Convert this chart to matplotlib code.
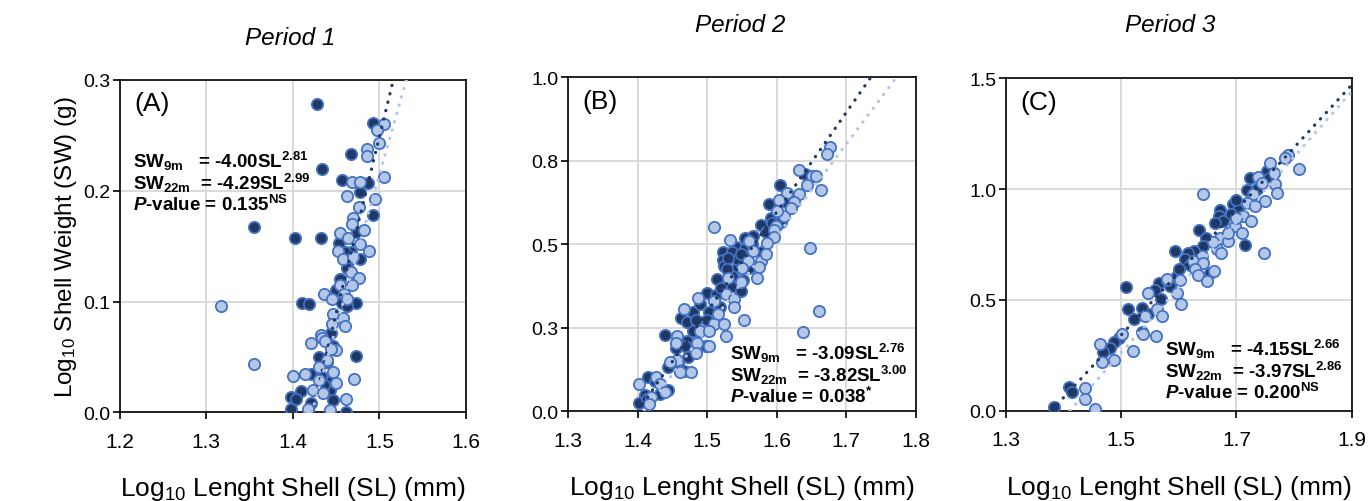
import matplotlib.pyplot as plt

plt.rcParams['font.family'] = ['Liberation Sans', 'DejaVu Sans']
plt.rcParams['mathtext.fontset'] = 'custom'
plt.rcParams['mathtext.rm'] = 'Liberation Sans'
plt.rcParams['mathtext.it'] = 'Liberation Sans:italic'
plt.rcParams['mathtext.bf'] = 'Liberation Sans:bold'
plt.rcParams['mathtext.bfit'] = 'Liberation Sans:italic:bold'

# ---- data (log10 SL, log10 SW) ----
a_dark = [(1.428, 0.278), (1.492, 0.261), (1.467, 0.233), (1.434, 0.220), (1.457, 0.210),
          (1.487, 0.207), (1.477, 0.199), (1.493, 0.178), (1.355, 0.167), (1.474, 0.163),
          (1.402, 0.157), (1.432, 0.157), (1.453, 0.153), (1.467, 0.145), (1.477, 0.138),
          (1.464, 0.136), (1.462, 0.130), (1.411, 0.099), (1.419, 0.098), (1.457, 0.099),
          (1.473, 0.099), (1.463, 0.096), (1.447, 0.087), (1.444, 0.072), (1.446, 0.060),
          (1.473, 0.051), (1.430, 0.050), (1.421, 0.035), (1.432, 0.033), (1.444, 0.028),
          (1.429, 0.020), (1.443, 0.020), (1.409, 0.019), (1.398, 0.014), (1.404, 0.012),
          (1.446, 0.011), (1.421, 0.008), (1.398, 0.003), (1.461, 0.000), (1.460, 0.145),
          (1.455, 0.120), (1.450, 0.110), (1.440, 0.045), (1.436, 0.025)]
a_light = [(1.505, 0.260), (1.497, 0.255), (1.500, 0.243), (1.486, 0.238), (1.486, 0.231),
           (1.468, 0.208), (1.477, 0.208), (1.505, 0.212), (1.462, 0.195), (1.495, 0.193),
           (1.476, 0.185), (1.470, 0.175), (1.468, 0.170), (1.482, 0.165), (1.455, 0.162),
           (1.464, 0.157), (1.452, 0.146), (1.477, 0.152), (1.488, 0.146), (1.458, 0.138),
           (1.470, 0.140), (1.467, 0.127), (1.476, 0.121), (1.454, 0.115), (1.468, 0.115),
           (1.436, 0.107), (1.459, 0.107), (1.445, 0.102), (1.463, 0.102), (1.317, 0.096),
           (1.446, 0.089), (1.458, 0.085), (1.445, 0.080), (1.460, 0.078), (1.432, 0.070),
           (1.434, 0.067), (1.421, 0.063), (1.437, 0.064), (1.450, 0.056), (1.444, 0.057),
           (1.355, 0.044), (1.439, 0.047), (1.430, 0.041), (1.414, 0.035), (1.400, 0.033),
           (1.446, 0.036), (1.471, 0.030), (1.430, 0.029), (1.450, 0.026), (1.423, 0.020),
           (1.435, 0.017), (1.461, 0.012), (1.417, 0.003), (1.443, 0.002)]

b_dark = [(1.640, 0.711), (1.605, 0.679), (1.613, 0.628), (1.589, 0.620), (1.605, 0.589),
          (1.591, 0.578), (1.578, 0.558), (1.593, 0.564), (1.606, 0.566), (1.584, 0.538),
          (1.566, 0.526), (1.555, 0.520), (1.542, 0.493), (1.523, 0.478), (1.535, 0.478),
          (1.555, 0.486), (1.577, 0.476), (1.523, 0.454), (1.545, 0.454), (1.524, 0.436),
          (1.560, 0.428), (1.538, 0.422), (1.535, 0.406), (1.552, 0.394), (1.514, 0.396),
          (1.536, 0.371), (1.548, 0.361), (1.500, 0.354), (1.513, 0.348), (1.519, 0.311),
          (1.463, 0.278), (1.480, 0.298), (1.471, 0.268), (1.484, 0.274), (1.503, 0.298),
          (1.500, 0.274), (1.480, 0.242), (1.440, 0.229), (1.471, 0.212), (1.468, 0.195),
          (1.498, 0.197), (1.472, 0.162), (1.458, 0.145), (1.443, 0.132), (1.467, 0.122),
          (1.415, 0.102), (1.443, 0.065), (1.432, 0.052), (1.410, 0.049), (1.402, 0.024),
          (1.413, 0.037), (1.530, 0.460), (1.548, 0.470), (1.528, 0.425), (1.565, 0.500),
          (1.520, 0.370), (1.490, 0.320), (1.455, 0.190), (1.425, 0.090)]
b_light = [(1.677, 0.792), (1.672, 0.770), (1.632, 0.723), (1.651, 0.706), (1.657, 0.706),
           (1.643, 0.678), (1.664, 0.664), (1.632, 0.651), (1.615, 0.654), (1.603, 0.633),
           (1.625, 0.626), (1.610, 0.586), (1.599, 0.554), (1.596, 0.544), (1.596, 0.523),
           (1.510, 0.551), (1.586, 0.504), (1.560, 0.511), (1.533, 0.514), (1.566, 0.481),
           (1.558, 0.451), (1.577, 0.451), (1.575, 0.433), (1.572, 0.398), (1.549, 0.386),
           (1.487, 0.338), (1.527, 0.351), (1.539, 0.336), (1.539, 0.311), (1.515, 0.291),
           (1.553, 0.274), (1.466, 0.306), (1.490, 0.242), (1.510, 0.261), (1.524, 0.261),
           (1.503, 0.242), (1.527, 0.227), (1.457, 0.227), (1.455, 0.205), (1.486, 0.205),
           (1.503, 0.195), (1.484, 0.175), (1.457, 0.155), (1.447, 0.147), (1.461, 0.117),
           (1.477, 0.117), (1.426, 0.102), (1.432, 0.082), (1.440, 0.057), (1.402, 0.082),
           (1.419, 0.042), (1.416, 0.022), (1.648, 0.488), (1.661, 0.301), (1.638, 0.237),
           (1.585, 0.470), (1.550, 0.430), (1.600, 0.600), (1.620, 0.610), (1.530, 0.400),
           (1.510, 0.330)]

c_dark = [(1.753, 1.081), (1.723, 1.051), (1.755, 1.044), (1.718, 0.998), (1.694, 0.931),
          (1.703, 0.908), (1.672, 0.908), (1.669, 0.878), (1.677, 0.856), (1.663, 0.848),
          (1.635, 0.815), (1.647, 0.781), (1.715, 0.746), (1.642, 0.743), (1.627, 0.721),
          (1.594, 0.721), (1.616, 0.710), (1.610, 0.683), (1.620, 0.656), (1.654, 0.620),
          (1.597, 0.608), (1.566, 0.578), (1.559, 0.545), (1.585, 0.563), (1.569, 0.506),
          (1.509, 0.560), (1.511, 0.461), (1.536, 0.465), (1.547, 0.435), (1.523, 0.416),
          (1.536, 0.353), (1.497, 0.326), (1.488, 0.308), (1.481, 0.281), (1.469, 0.263),
          (1.409, 0.105), (1.415, 0.086), (1.384, 0.015), (1.690, 0.890), (1.700, 0.950),
          (1.735, 1.000), (1.580, 0.590), (1.600, 0.640)]
c_light = [(1.790, 1.156), (1.784, 1.141), (1.808, 1.092), (1.758, 1.116), (1.738, 1.056),
           (1.765, 1.071), (1.767, 1.021), (1.744, 1.029), (1.642, 0.979), (1.729, 0.976),
           (1.770, 0.983), (1.750, 0.946), (1.718, 0.938), (1.732, 0.923), (1.712, 0.878),
           (1.726, 0.856), (1.698, 0.833), (1.710, 0.803), (1.672, 0.781), (1.686, 0.766),
           (1.747, 0.713), (1.666, 0.728), (1.674, 0.713), (1.640, 0.698), (1.625, 0.676),
           (1.642, 0.668), (1.628, 0.641), (1.661, 0.631), (1.633, 0.611), (1.649, 0.586),
           (1.602, 0.590), (1.579, 0.593), (1.546, 0.530), (1.597, 0.530), (1.604, 0.480),
           (1.562, 0.458), (1.542, 0.428), (1.571, 0.428), (1.561, 0.338), (1.538, 0.345),
           (1.501, 0.348), (1.464, 0.303), (1.521, 0.270), (1.488, 0.230), (1.467, 0.221),
           (1.438, 0.101), (1.438, 0.053), (1.455, 0.008), (1.700, 0.870), (1.685, 0.800),
           (1.660, 0.760)]

# fitted trend lines (end points in log space)
a_fit_dark = [(1.422, 0.0), (1.516, 0.3)]
a_fit_light = [(1.422, 0.0), (1.531, 0.3)]
b_fit_dark = [(1.400, 0.0), (1.735, 1.0)]
b_fit_light = [(1.410, 0.0), (1.772, 1.0)]
c_fit_dark = [(1.379, 0.0), (1.900, 1.47)]
c_fit_light = [(1.411, 0.0), (1.900, 1.44)]

titles = ['Period 1', 'Period 2', 'Period 3']
letters = ['(A)', '(B)', '(C)']
a_xticks = [1.2, 1.3, 1.4, 1.5, 1.6]
a_yticks = [0.0, 0.1, 0.2, 0.3]
a_ylabels = ['0.0', '0.1', '0.2', '0.3']
b_xticks = [1.3, 1.4, 1.5, 1.6, 1.7, 1.8]
b_yticks = [0.0, 0.25, 0.5, 0.75, 1.0]
b_ylabels = ['0.0', '0.3', '0.5', '0.8', '1.0']
c_xticks = [1.3, 1.5, 1.7, 1.9]
c_yticks = [0.0, 0.5, 1.0, 1.5]
c_ylabels = ['0.0', '0.5', '1.0', '1.5']

eqs = [('-4.00', '2.81', '-4.29', '2.99', '0.135', 'NS'),
       ('-3.09', '2.76', '-3.82', '3.00', '0.038', '*'),
       ('-4.15', '2.66', '-3.97', '2.86', '0.200', 'NS')]

dark_fill = '#1F3864'
light_fill = '#B4C7E7'
edge = '#4472C4'

fig = plt.figure(figsize=(13.72, 5.02), dpi=100)
ax_a = fig.add_axes([0.0872, 0.1767, 0.2525, 0.6620])
ax_b = fig.add_axes([0.4140, 0.1787, 0.2536, 0.6650])
ax_c = fig.add_axes([0.7332, 0.1799, 0.2520, 0.6620])

panels = [
    (ax_a, a_dark, a_light, a_fit_dark, a_fit_light, a_xticks, a_yticks, a_ylabels, (0.039, 0.627)),
    (ax_b, b_dark, b_light, b_fit_dark, b_fit_light, b_xticks, b_yticks, b_ylabels, (0.466, 0.046)),
    (ax_c, c_dark, c_light, c_fit_dark, c_fit_light, c_xticks, c_yticks, c_ylabels, (0.460, 0.056)),
]

for i, (ax, dk, lt, fd, fl, xt, yt, yl, eqpos) in enumerate(panels):
    ax.scatter([p[0] for p in dk], [p[1] for p in dk], s=66, c=dark_fill,
               edgecolors=edge, linewidths=1.3, zorder=3)
    ax.scatter([p[0] for p in lt], [p[1] for p in lt], s=66, c=light_fill,
               edgecolors=edge, linewidths=1.3, zorder=3)
    ax.plot([p[0] for p in fd], [p[1] for p in fd], color=dark_fill, lw=2.3,
            linestyle=(0, (0.1, 2.6)), dash_capstyle='round', zorder=4)
    ax.plot([p[0] for p in fl], [p[1] for p in fl], color=light_fill, lw=2.3,
            linestyle=(0, (0.1, 2.6)), dash_capstyle='round', zorder=4)

    ax.set_xlim(xt[0], xt[-1])
    ax.set_ylim(yt[0], yt[-1])
    ax.set_xticks(xt)
    ax.set_xticklabels([f'{v:.1f}' for v in xt])
    ax.set_yticks(yt)
    ax.set_yticklabels(yl)
    ax.tick_params(length=5, width=1.2, color='black')
    ax.tick_params(axis='x', pad=9, labelsize=15)
    ax.tick_params(axis='y', pad=2, labelsize=14)
    ax.grid(True, color='#D9D9D9', lw=1.4, zorder=0)
    ax.set_axisbelow(True)
    for sp in ax.spines.values():
        sp.set_color('black')
        sp.set_linewidth(1.2)

    ax.set_xlabel('Log$_{\\mathregular{10}}$ Lenght Shell (SL) (mm)', fontsize=19, labelpad=17)
    ax.text(0.042, 0.93, letters[i], transform=ax.transAxes, fontsize=19,
            va='center', ha='left')

    e = eqs[i]
    x0, y0 = eqpos
    ax.text(x0, y0 + 0.13, 'SW$_{\\mathbf{9m}}$   = ' + e[0] + 'SL$^{\\mathbf{' + e[1] + '}}$',
            transform=ax.transAxes, fontsize=13.5, fontweight='bold', va='center', ha='left')
    ax.text(x0, y0 + 0.065, 'SW$_{\\mathbf{22m}}$  = ' + e[2] + 'SL$^{\\mathbf{' + e[3] + '}}$',
            transform=ax.transAxes, fontsize=13.5, fontweight='bold', va='center', ha='left')
    ax.text(x0, y0, '$\\mathbfit{P}$-value = ' + e[4] + '$^{\\mathbf{' + e[5] + '}}$',
            transform=ax.transAxes, fontsize=13.5, fontweight='bold', va='center', ha='left')

ax_a.set_ylabel('Log$_{\\mathregular{10}}$ Shell Weight (SW) (g)', fontsize=17.5, labelpad=3)

fig.text(0.2114, 0.924, titles[0], fontsize=17.5, style='italic', ha='center', va='center')
fig.text(0.5394, 0.950, titles[1], fontsize=17.5, style='italic', ha='center', va='center')
fig.text(0.8528, 0.950, titles[2], fontsize=17.5, style='italic', ha='center', va='center')

fig.savefig('out.png', dpi=100)
